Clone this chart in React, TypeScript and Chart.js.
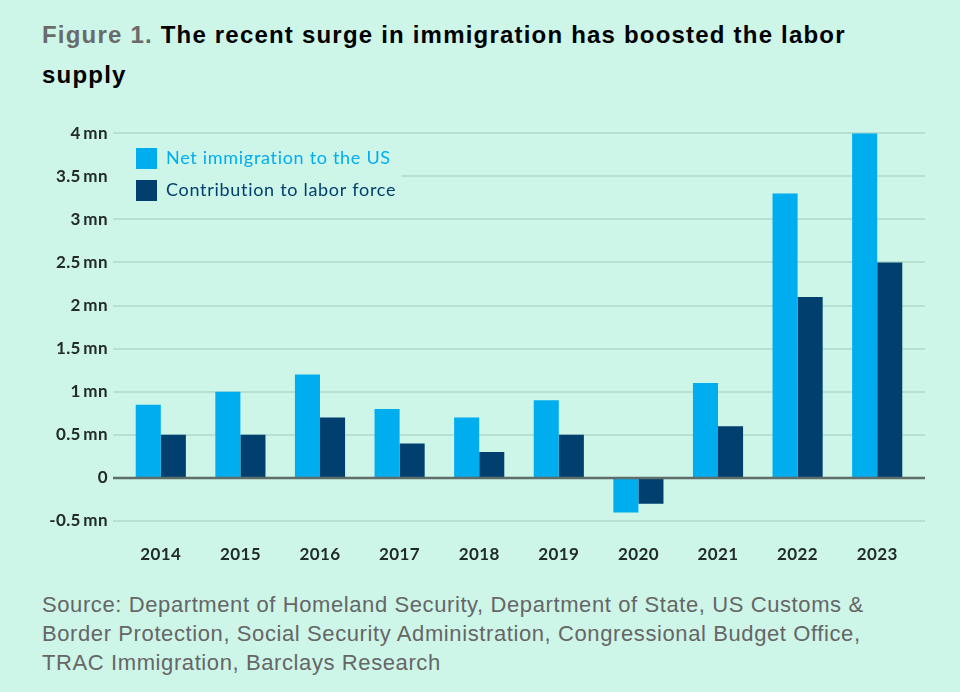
import React, { useEffect, useRef } from "react";
import { Chart, registerables } from "chart.js";

Chart.register(...registerables);

const categories = ["2014", "2015", "2016", "2017", "2018", "2019", "2020", "2021", "2022", "2023"];
const netImmigration = [0.85, 1.0, 1.2, 0.8, 0.7, 0.9, -0.4, 1.1, 3.3, 4.0];
const laborContribution = [0.5, 0.5, 0.7, 0.4, 0.3, 0.5, -0.3, 0.6, 2.1, 2.5];
const seriesNames = ["Net immigration to the US", "Contribution to labor force"];
const yTickValues = [-0.5, 0, 0.5, 1, 1.5, 2, 2.5, 3, 3.5, 4];

const BG = "#cdf5e8";
const LIGHT = "#00aeef";
const DARK = "#003f6e";
const CHART_FONT = "Lato, 'Open Sans', sans-serif";

function fmt(v: number): string {
  if (v === 0) return "0";
  return `${v}\u2009mn`;
}

const gridPlugin = {
  id: "customGrid",
  beforeDraw(chart: any) {
    try {
      chart.ctx.letterSpacing = "0.4px";
    } catch (e) {}
  },
  beforeDatasetsDraw(chart: any) {
    const { ctx, scales } = chart;
    const y = scales.y;
    const x0 = chart.chartArea.left - 8;
    const x1 = chart.chartArea.right + 8;
    ctx.save();
    ctx.strokeStyle = "rgba(140,190,170,0.35)";
    ctx.lineWidth = 2;
    yTickValues.forEach((v) => {
      if (v === 0) return;
      const py = Math.round(y.getPixelForValue(v));
      ctx.beginPath();
      ctx.moveTo(x0, py);
      ctx.lineTo(x1, py);
      ctx.stroke();
    });
    // legend background cover
    ctx.fillStyle = BG;
    ctx.fillRect(x0 - 2, 30, 290, 66);
    ctx.restore();
  },
  afterDatasetsDraw(chart: any) {
    const { ctx, scales } = chart;
    const y = scales.y;
    const x0 = chart.chartArea.left - 8;
    const x1 = chart.chartArea.right + 8;
    ctx.save();
    ctx.strokeStyle = "#5f6e68";
    ctx.lineWidth = 2.5;
    const py = y.getPixelForValue(0);
    ctx.beginPath();
    ctx.moveTo(x0, py);
    ctx.lineTo(x1, py);
    ctx.stroke();

    // legend
    const colors = [LIGHT, DARK];
    const left = chart.chartArea.left + 15;
    const tops = [38, 70];
    ctx.font = `18px ${CHART_FONT}`;
    try {
      ctx.letterSpacing = "0.7px";
    } catch (e) {}
    ctx.textBaseline = "middle";
    ctx.textAlign = "left";
    seriesNames.forEach((name, i) => {
      ctx.fillStyle = colors[i];
      ctx.fillRect(left, tops[i], 21, 21);
      ctx.fillText(name, left + 30, tops[i] + 10);
    });
    ctx.restore();
  },
};

export default function App() {
  const ref = useRef<HTMLCanvasElement | null>(null);

  useEffect(() => {
    if (!ref.current) return;
    const chart = new Chart(ref.current, {
      type: "bar",
      data: {
        labels: categories,
        datasets: [
          {
            label: seriesNames[0],
            data: netImmigration,
            backgroundColor: LIGHT,
            categoryPercentage: 0.63,
            barPercentage: 1,
          },
          {
            label: seriesNames[1],
            data: laborContribution,
            backgroundColor: DARK,
            categoryPercentage: 0.63,
            barPercentage: 1,
          },
        ],
      },
      options: {
        animation: false,
        responsive: false,
        maintainAspectRatio: false,
        layout: { padding: { top: 21, right: 43, left: 0, bottom: 0 } },
        plugins: {
          legend: { display: false },
          tooltip: { enabled: false },
        },
        scales: {
          x: {
            grid: { display: false, drawTicks: false },
            border: { display: false },
            ticks: {
              color: "#222a2a",
              font: { family: CHART_FONT, size: 17, weight: "bold" },
              padding: 23,
            },
            afterFit(scale: any) {
              scale.height = 59;
            },
          },
          y: {
            min: -0.5,
            max: 4,
            grid: { display: false, drawTicks: false },
            border: { display: false },
            afterBuildTicks(scale: any) {
              scale.ticks = yTickValues.map((v) => ({ value: v }));
            },
            ticks: {
              color: "#222a2a",
              font: { family: CHART_FONT, size: 17, weight: "bold" },
              padding: 13,
              callback: (v: any) => fmt(Number(v)),
            },
            afterFit(scale: any) {
              scale.width = 121;
            },
          },
        },
      },
      plugins: [gridPlugin],
    });
    return () => chart.destroy();
  }, []);

  return (
    <div
      style={{
        position: "fixed",
        left: 0,
        top: 0,
        width: 960,
        height: 692,
        background: BG,
        overflow: "hidden",
      }}
    >
      <div
        style={{
          position: "absolute",
          left: 42,
          top: 15,
          width: 900,
          whiteSpace: "nowrap",
          fontFamily: "'Liberation Sans', Arial, sans-serif",
          fontWeight: "bold",
          fontSize: 24,
          letterSpacing: "1.2px",
          lineHeight: "40px",
          color: "#000",
        }}
      >
        <span style={{ color: "#6a6a6a" }}>Figure 1.</span> The recent surge in immigration has boosted the labor
        <br />
        supply
      </div>
      <canvas
        ref={ref}
        width={960}
        height={470}
        style={{ position: "absolute", left: 0, top: 110, width: 960, height: 470 }}
      />
      <div
        style={{
          position: "absolute",
          left: 42,
          top: 590,
          width: 910,
          whiteSpace: "nowrap",
          fontFamily: "'Liberation Sans', Arial, sans-serif",
          fontSize: 22,
          letterSpacing: "0.6px",
          lineHeight: "29px",
          color: "#666",
        }}
      >
        Source: Department of Homeland Security, Department of State, US Customs &amp;
        <br />
        Border Protection, Social Security Administration, Congressional Budget Office,
        <br />
        TRAC Immigration, Barclays Research
      </div>
    </div>
  );
}
